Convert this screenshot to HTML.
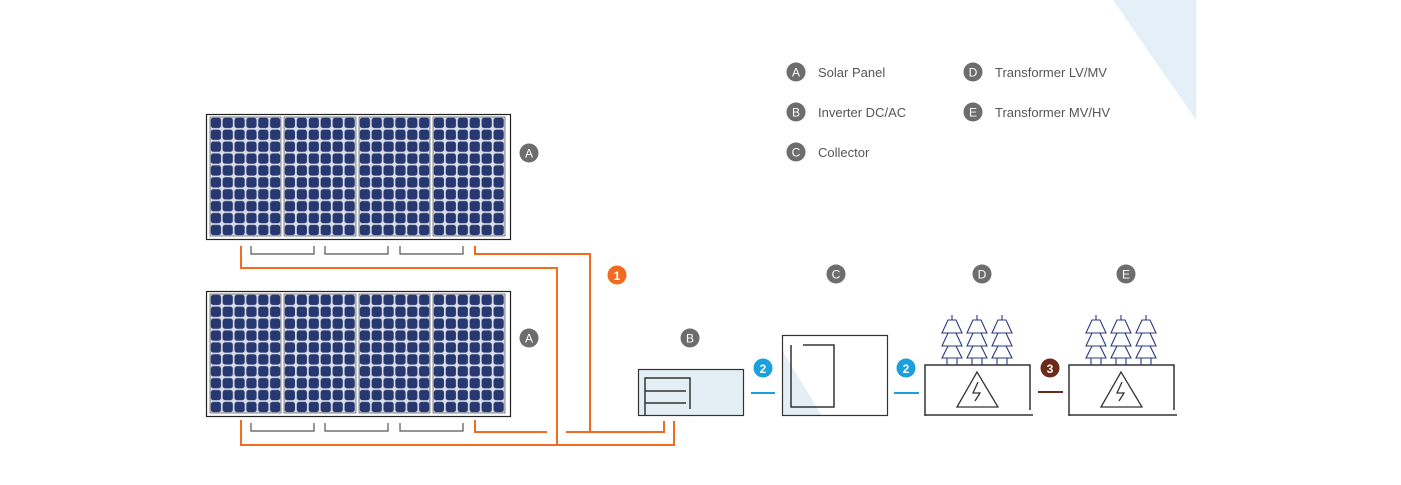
<!DOCTYPE html>
<html><head><meta charset="utf-8"><style>
html,body{margin:0;padding:0;background:#fff;}
svg{display:block;}
text{font-family:"Liberation Sans",Arial,sans-serif;}
</style></head><body>
<svg width="1401" height="485" viewBox="0 0 1401 485" xmlns="http://www.w3.org/2000/svg">
<defs>
<g id="cellg">
<rect width="11.85" height="11.9" fill="#d9dde8"/>
<rect x="0.8" y="0.8" width="10.2" height="10.2" rx="2.5" fill="#26386f"/>
</g>
<pattern id="c1" x="210" y="117" width="11.85" height="11.9" patternUnits="userSpaceOnUse"><use href="#cellg"/></pattern>
<pattern id="c2" x="284" y="117" width="11.95" height="11.9" patternUnits="userSpaceOnUse"><use href="#cellg"/></pattern>
<pattern id="c3" x="359" y="117" width="11.85" height="11.9" patternUnits="userSpaceOnUse"><use href="#cellg"/></pattern>
<pattern id="c4" x="433" y="117" width="11.95" height="11.9" patternUnits="userSpaceOnUse"><use href="#cellg"/></pattern>
</defs>
<polygon points="1113,0 1196,0 1196,120" fill="#e5eff7"/>

<g font-size="13" fill="#555">
<circle cx="796" cy="72" r="9.5" fill="#6d6d6d"/><text x="796" y="76.5" text-anchor="middle" fill="#fff" font-size="12">A</text><text x="818" y="77">Solar Panel</text>
<circle cx="796" cy="112" r="9.5" fill="#6d6d6d"/><text x="796" y="116.5" text-anchor="middle" fill="#fff" font-size="12">B</text><text x="818" y="117">Inverter DC/AC</text>
<circle cx="796" cy="152" r="9.5" fill="#6d6d6d"/><text x="796" y="156.5" text-anchor="middle" fill="#fff" font-size="12">C</text><text x="818" y="157">Collector</text>
<circle cx="973" cy="72" r="9.5" fill="#6d6d6d"/><text x="973" y="76.5" text-anchor="middle" fill="#fff" font-size="12">D</text><text x="995" y="77">Transformer LV/MV</text>
<circle cx="973" cy="112" r="9.5" fill="#6d6d6d"/><text x="973" y="116.5" text-anchor="middle" fill="#fff" font-size="12">E</text><text x="995" y="117">Transformer MV/HV</text>
</g>

<g id="p1">
<rect x="206.5" y="114.5" width="304" height="125" fill="#fff" stroke="#222" stroke-width="1.2"/>
<rect x="210" y="117" width="71" height="119" fill="url(#c1)" stroke="#666" stroke-width="0.8"/>
<rect x="284" y="117" width="72" height="119" fill="url(#c2)" stroke="#666" stroke-width="0.8"/>
<rect x="359" y="117" width="71" height="119" fill="url(#c3)" stroke="#666" stroke-width="0.8"/>
<rect x="433" y="117" width="72" height="119" fill="url(#c4)" stroke="#666" stroke-width="0.8"/>
</g>
<use href="#p1" transform="translate(0,177)"/>

<g fill="none" stroke="#555" stroke-width="1.2">
<path d="M251,246V254H314V246 M325,246V254H388V246 M400,246V254H463V246"/>
<path d="M251,423V431H314V423 M325,423V431H388V423 M400,423V431H463V423"/>
</g>

<g fill="none" stroke="#f26b21" stroke-width="2">
<path d="M241,246V268H557V445"/>
<path d="M475,246V254H590V432"/>
<path d="M475,420V432H547"/>
<path d="M566,432H664V421"/>
<path d="M241,420V445H674V421"/>
</g>
<circle cx="617" cy="275" r="9.5" fill="#f26b21"/><text x="617" y="280" text-anchor="middle" fill="#fff" font-size="12" font-weight="bold">1</text>

<g font-size="12" fill="#fff" text-anchor="middle">
<circle cx="529" cy="153" r="9.5" fill="#6d6d6d"/><text x="529" y="157.5">A</text>
<circle cx="529" cy="338" r="9.5" fill="#6d6d6d"/><text x="529" y="342.5">A</text>
<circle cx="690" cy="338" r="9.5" fill="#6d6d6d"/><text x="690" y="342.5">B</text>
<circle cx="836" cy="274" r="9.5" fill="#6d6d6d"/><text x="836" y="278.5">C</text>
<circle cx="982" cy="274" r="9.5" fill="#6d6d6d"/><text x="982" y="278.5">D</text>
<circle cx="1126" cy="274" r="9.5" fill="#6d6d6d"/><text x="1126" y="278.5">E</text>
</g>

<rect x="638.5" y="369.5" width="105" height="46" fill="#e3eef5" stroke="#333" stroke-width="1.2"/>
<path d="M645,416V378H690V409 M645,391H686 M645,403H686" fill="none" stroke="#333" stroke-width="1.5"/>

<line x1="751" y1="393" x2="775" y2="393" stroke="#1aa0dc" stroke-width="2"/>
<circle cx="763" cy="368" r="9.5" fill="#1aa0dc"/><text x="763" y="373" text-anchor="middle" fill="#fff" font-size="12" font-weight="bold">2</text>

<polygon points="783,352 783,416 822,416" fill="#e3eef5"/>
<rect x="782.5" y="335.5" width="105" height="80" fill="none" stroke="#333" stroke-width="1.2"/>
<path d="M791,345V407H834V345H803" fill="none" stroke="#333" stroke-width="1.5"/>

<line x1="894" y1="393" x2="919" y2="393" stroke="#1aa0dc" stroke-width="2"/>
<circle cx="906" cy="368" r="9.5" fill="#1aa0dc"/><text x="906" y="373" text-anchor="middle" fill="#fff" font-size="12" font-weight="bold">2</text>

<g id="tr">
<path d="M925,416V365H1030V410 M925,415H1033" fill="none" stroke="#333" stroke-width="1.5"/>
<path d="M977,372L957,407H998Z M978,382L973,393H980L975,401" fill="none" stroke="#333" stroke-width="1.3"/>
<g fill="none" stroke="#2a3880" stroke-width="1.1">
<g id="ins">
<path d="M952,315V320 M948,320H956L962,333H942Z M948,333H956L962,346H942Z M948,346H956L962,358H942Z M947,358V365 M957,358V365"/>
</g>
<use href="#ins" transform="translate(25,0)"/>
<use href="#ins" transform="translate(50,0)"/>
</g>
</g>
<use href="#tr" transform="translate(144,0)"/>

<line x1="1038" y1="392" x2="1063" y2="392" stroke="#6b2b1a" stroke-width="2"/>
<circle cx="1050" cy="368" r="9.5" fill="#6b2b1a"/><text x="1050" y="373" text-anchor="middle" fill="#fff" font-size="12" font-weight="bold">3</text>
</svg>
</body></html>
